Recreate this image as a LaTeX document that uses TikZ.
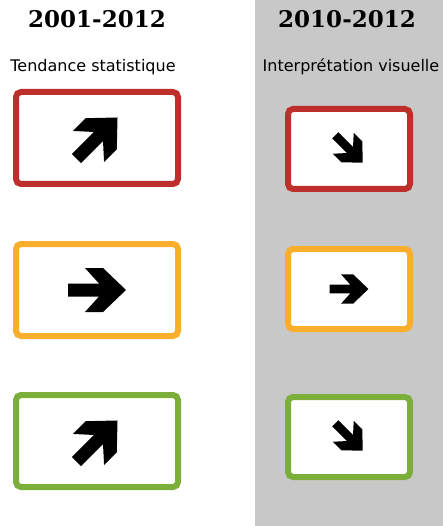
\documentclass[tikz,border=0pt]{standalone}
\usepackage{fontspec}
\setmainfont{DejaVu Sans}
\newfontfamily\yearfont{DejaVu Serif}
\usepackage{xcolor}

\definecolor{trendred}{HTML}{BE2E2B}
\definecolor{trendorange}{HTML}{F9AE2C}
\definecolor{trendgreen}{HTML}{7BAF3A}
\definecolor{panelgrey}{HTML}{C8C8C8}

\tikzset{
  trendbox/.style={draw=#1, line width=6pt, rounded corners=5pt, fill=white,
    minimum width=162pt, minimum height=92pt, inner sep=0pt},
  smallbox/.style={trendbox=#1, minimum width=122pt, minimum height=80pt},
  yearlabel/.style={font=\yearfont\bfseries\fontsize{23}{26}\selectfont},
  sublabel/.style={font=\fontsize{16}{19}\selectfont},
}

% fat arrow: centre, angle, scale
\newcommand{\fatarrow}[3]{%
  \fill[black, shift={(#1)}, rotate=#2, scale=#3]
    (-29,-6.5) -- (2,-6.5) -- (-12,-22) -- (6,-22) -- (29,0)
    -- (6,22) -- (-12,22) -- (2,6.5) -- (-29,6.5) -- cycle;}

\begin{document}
\begin{tikzpicture}[x=1pt, y=-1pt]
  \useasboundingbox (0,0) rectangle (443,526);
  \fill[panelgrey] (255,0) rectangle (443,526);

  \node[yearlabel] (yearL) at (97,19) {2001-2012};
  \node[yearlabel] (yearR) at (347,19) {2010-2012};
  \node[sublabel] (subL) at (93,67) {Tendance statistique};
  \node[sublabel] (subR) at (351,67) {Interprétation visuelle};

  \node[trendbox=trendred] (redL) at (97,138) {};
  \node[trendbox=trendorange] (orangeL) at (97,290) {};
  \node[trendbox=trendgreen] (greenL) at (97,441) {};

  \node[smallbox=trendred] (redR) at (349,149) {};
  \node[smallbox=trendorange] (orangeR) at (349,289) {};
  \node[smallbox=trendgreen] (greenR) at (349,437) {};

  \fatarrow{redL.center}{45}{1}
  \fatarrow{orangeL.center}{0}{1}
  \fatarrow{greenL.center}{45}{1}
  \fatarrow{redR.center}{-45}{0.67}
  \fatarrow{orangeR.center}{0}{0.67}
  \fatarrow{greenR.center}{-45}{0.67}
\end{tikzpicture}
\end{document}
